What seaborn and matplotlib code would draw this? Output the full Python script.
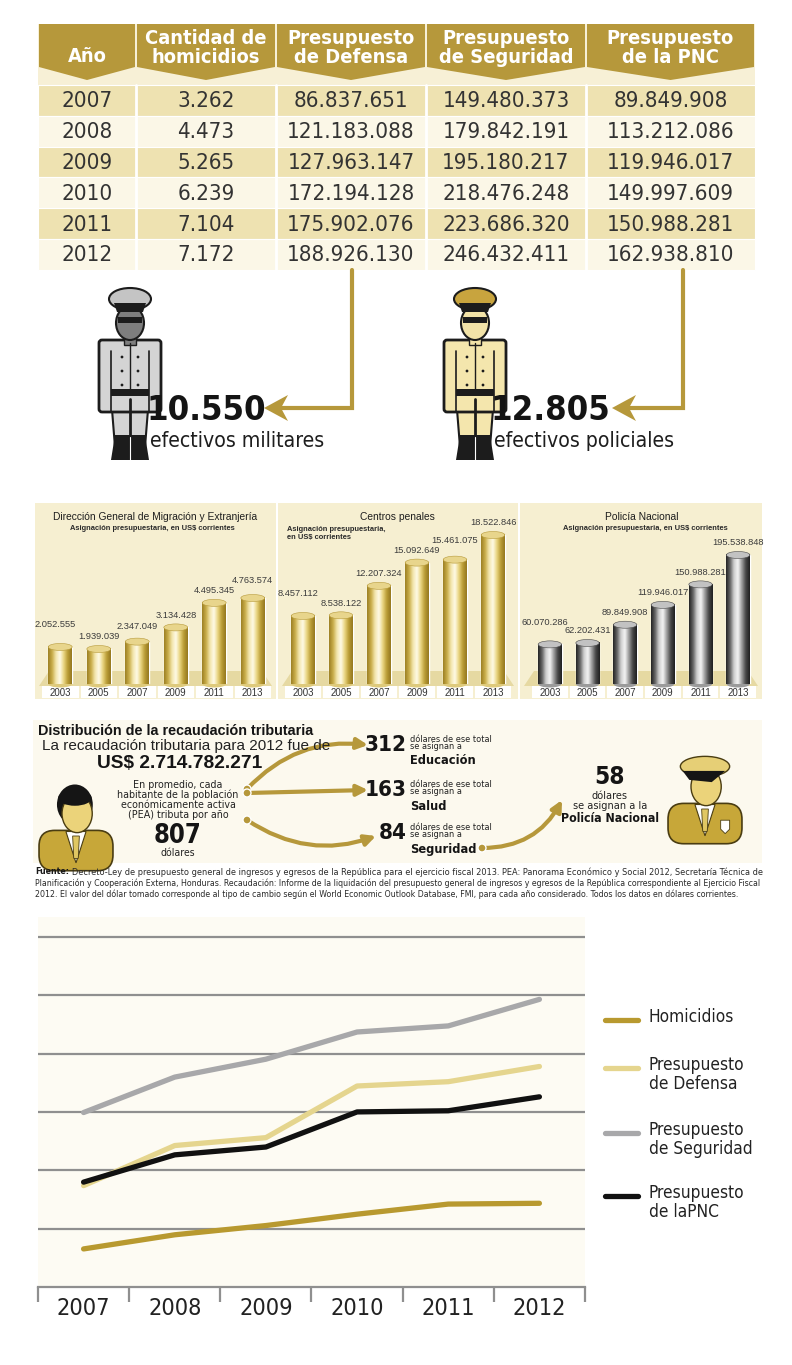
import numpy as np
import pandas as pd
import matplotlib
matplotlib.use("Agg")
import matplotlib.pyplot as plt
import seaborn as sns
from matplotlib import font_manager
from matplotlib.patches import Rectangle, Polygon, Ellipse, FancyBboxPatch, FancyArrowPatch, Circle
from matplotlib.colors import LinearSegmentedColormap

# ---- tabla principal ----
anios = [2007, 2008, 2009, 2010, 2011, 2012]
homicidios = [3262, 4473, 5265, 6239, 7104, 7172]
presupuesto_defensa = [86837651, 121183088, 127963147, 172194128, 175902076, 188926130]
presupuesto_seguridad = [149480373, 179842191, 195180217, 218476248, 223686320, 246432411]
presupuesto_pnc = [89849908, 113212086, 119946017, 149997609, 150988281, 162938810]
encabezados = ["Año", "Cantidad de\nhomicidios", "Presupuesto\nde Defensa",
               "Presupuesto\nde Seguridad", "Presupuesto\nde la PNC"]

efectivos_militares = 10550
efectivos_policiales = 12805

# ---- asignaciones presupuestarias (US$ corrientes) ----
anios_barras = [2003, 2005, 2007, 2009, 2011, 2013]
migracion = [2052555, 1939039, 2347049, 3134428, 4495345, 4763574]
centros_penales = [8457112, 8538122, 12207324, 15092649, 15461075, 18522846]
policia_nacional = [60070286, 62202431, 89849908, 119946017, 150988281, 195538848]
titulos_barras = ["Dirección General de Migración y Extranjería", "Centros penales", "Policía Nacional"]

# ---- recaudacion tributaria ----
recaudacion_2012 = 2714782271
tributo_por_pea = 807
destinos = ["Educación", "Salud", "Seguridad"]
dolares_destino = [312, 163, 84]
dolares_pnc = 58

# ---- grafico de lineas ----
series = ["Homicidios", "Presupuesto\nde Defensa", "Presupuesto\nde Seguridad", "Presupuesto\nde laPNC"]
colores_series = ["#b8992f", "#e5d58e", "#a8a8aa", "#111111"]

nota = [
    "Decreto-Ley de presupuesto general de ingresos y egresos de la República para el ejercicio fiscal 2013. PEA: Panorama Económico y Social 2012, Secretaría Técnica de",
    "Planificación y Cooperación Externa, Honduras. Recaudación: Informe de la liquidación del presupuesto general de ingresos y egresos de la República correspondiente al Ejercicio Fiscal",
    "2012. El valor del dólar tomado corresponde al tipo de cambio según el World Economic Outlook Database, FMI, para cada año considerado. Todos los datos en dólares corrientes.",
]

sns.set_theme(style="white")
plt.rcParams["font.family"] = ["Liberation Sans", "DejaVu Sans"]


def buscar_angosta():
    """Busca una letra estrecha instalada; devuelve familia, estiramiento y factor de tamaño."""
    fuentes = font_manager.fontManager.ttflist
    estrechas = ("condensed", "semi-condensed", "extra-condensed", "ultra-condensed")
    if any(f.name == "Liberation Sans Narrow" for f in fuentes):
        return "Liberation Sans Narrow", "normal", 1.0
    for nombre, factor in [("DejaVu Sans", 0.8), ("Roboto", 0.92), ("Open Sans", 0.88), ("Noto Sans", 0.9)]:
        if any(f.name == nombre and str(f.stretch) in estrechas for f in fuentes):
            return nombre, "condensed", factor
    for f in fuentes:
        if "Narrow" in f.name or "Condensed" in f.name:
            return f.name, "normal", 0.95
    return "Liberation Sans", "normal", 0.82


ANGOSTA, ESTIRA, FACTOR = buscar_angosta()
NAR = dict(family=ANGOSTA, fontstretch=ESTIRA)


def n(tam):
    return tam * FACTOR


ORO = "#b6983b"
W, H = 792, 1365


def miles(v):
    return f"{v:,}".replace(",", ".")


fig = plt.figure(figsize=(W / 100, H / 100), dpi=100)
fig.patch.set_facecolor("white")
lienzo = fig.add_axes([0, 0, 1, 1], zorder=0)
lienzo.axis("off")


def ejes_px(x0, y0, x1, y1):
    return fig.add_axes([x0 / W, 1 - y1 / H, (x1 - x0) / W, (y1 - y0) / H], zorder=2)


def degradado(ax, x0, y0, x1, y1, colores):
    cm = LinearSegmentedColormap.from_list("fondo", colores)
    ax.imshow(np.linspace(0, 1, 64)[None, :], extent=(x0, x1, y1, y0), aspect="auto",
              cmap=cm, zorder=0.5)


def uniformado(ax, cx, top, traje, gorra, cara):
    borde = "#1c1c1c"
    P = lambda pts: [(cx + x, top + y) for x, y in pts]
    ax.add_patch(Polygon(P([(-19, 112), (19, 112), (15, 162), (-15, 162)]), fc=traje, ec=borde, lw=1.5))
    ax.plot([cx, cx], [top + 114, top + 160], color=borde, lw=2)
    ax.add_patch(Polygon(P([(-15, 150), (15, 150), (19, 175), (-19, 175)]), fc=borde, lw=0))
    ax.plot([cx, cx], [top + 152, top + 175], color="white", lw=0.8)
    ax.add_patch(FancyBboxPatch((cx - 28, top + 58), 56, 66, boxstyle="round,pad=3",
                                fc=traje, ec=borde, lw=2))
    for s in (-1, 1):
        ax.plot([cx + s * 19, cx + s * 19], [top + 66, top + 126], color=borde, lw=1.2)
        for yb in (72, 86, 100):
            ax.add_patch(Circle((cx + s * 8, top + yb), 1.4, fc=borde, lw=0))
    ax.plot([cx, cx], [top + 58, top + 104], color=borde, lw=1)
    ax.add_patch(Rectangle((cx - 19, top + 104), 38, 7, fc=borde, lw=0))
    ax.add_patch(Rectangle((cx - 6, top + 48), 12, 12, fc=cara, ec=borde, lw=1))
    ax.add_patch(Ellipse((cx, top + 38), 28, 34, fc=cara, ec=borde, lw=1.5))
    ax.add_patch(Rectangle((cx - 12, top + 32), 24, 6, fc=borde, lw=0))
    ax.add_patch(Ellipse((cx, top + 14), 42, 22, fc=gorra, ec=borde, lw=1.5))
    ax.add_patch(Polygon(P([(-16, 18), (16, 18), (13, 27), (-13, 27)]), fc=borde, lw=0))


def busto(ax, cx, top, s=1.0, policia=False):
    borde = "#4a3d12"
    P = lambda pts: [(cx + x * s, top + y * s) for x, y in pts]
    ax.add_patch(FancyBboxPatch((cx - 28 * s, top + 50 * s), 56 * s, 26 * s,
                                boxstyle=f"round,pad={5 * s},rounding_size={14 * s}",
                                fc="#c7a739", ec=borde, lw=1.2))
    ax.add_patch(Polygon(P([(-9, 46), (9, 46), (0, 74)]), fc="white", ec=borde, lw=0.8))
    ax.add_patch(Polygon(P([(-3, 50), (3, 50), (2, 70), (-2, 70)]), fc="#e0c763", ec=borde, lw=0.6))
    if not policia:
        ax.add_patch(Ellipse((cx - 1 * s, top + 22 * s), 32 * s, 36 * s, fc="#151515", lw=0))
    ax.add_patch(Ellipse((cx + 1 * s, top + 30 * s), 27 * s, 34 * s, fc="#ebd37a", ec=borde, lw=1))
    if policia:
        ax.add_patch(Ellipse((cx, top + 12 * s), 44 * s, 18 * s, fc="#e6cf76", ec=borde, lw=1))
        ax.add_patch(Polygon(P([(-20, 16), (18, 16), (6, 26), (-14, 24)]), fc="#151515", lw=0))
        ax.add_patch(Polygon(P([(14, 60), (22, 60), (22, 68), (18, 72), (14, 68)]), fc="white", ec=borde, lw=0.6))
    else:
        ax.add_patch(Ellipse((cx - 1 * s, top + 16 * s), 30 * s, 14 * s, fc="#151515", lw=0))


# ================= tabla =================
bordes = [38, 136, 276, 426, 586, 755]
fila0, alto_fila = 85, 30.8
lienzo.add_patch(Rectangle((38, 24), 717, 62, fc="#f7f0d6", lw=0))
for c in range(5):
    x0, x1 = bordes[c] + 1, bordes[c + 1] - 1
    xc = (x0 + x1) / 2
    lienzo.add_patch(Polygon([(x0, 24), (x1, 24), (x1, 67), (xc, 80), (x0, 67)], fc=ORO, lw=0))
    lienzo.text(xc, 56 if c == 0 else 48, encabezados[c], color="white", fontsize=n(18), weight="bold",
                ha="center", va="center", linespacing=0.95, **NAR)

columnas = [anios, homicidios, presupuesto_defensa, presupuesto_seguridad, presupuesto_pnc]
for r in range(len(anios)):
    y0 = fila0 + r * alto_fila
    lienzo.add_patch(Rectangle((38, y0), 717, alto_fila, fc="#eee2b1" if r % 2 == 0 else "#fbf7e7",
                               ec="white", lw=0.8))
    for c in range(5):
        txt = str(columnas[c][r]) if c == 0 else miles(columnas[c][r])
        lienzo.text((bordes[c] + bordes[c + 1]) / 2, y0 + alto_fila / 2 + 1, txt, fontsize=n(20),
                    color="#333333", ha="center", va="center", **NAR)
for x in bordes[1:-1]:
    lienzo.plot([x, x], [fila0, fila0 + 6 * alto_fila], color="white", lw=2)

# flechas hacia los efectivos
for xv, xt in [(352, 264), (683, 612)]:
    lienzo.plot([xv, xv, xt + 14], [270, 408, 408], color=ORO, lw=3, solid_joinstyle="miter")
    lienzo.add_patch(Polygon([(xt, 408), (xt + 24, 395), (xt + 17, 408), (xt + 24, 421)], fc=ORO, lw=0))

uniformado(lienzo, 130, 285, "#d4d4d4", "#c4c4c4", "#7e7e7e")
uniformado(lienzo, 475, 285, "#f4e6ad", "#c8a43e", "#f2e3a8")
lienzo.text(147, 410, miles(efectivos_militares), fontsize=n(31), weight="bold",
            color="#141414", va="center", **NAR)
lienzo.text(150, 441, "efectivos militares", fontsize=n(19), color="#1e1e1e", va="center", **NAR)
lienzo.text(490, 410, miles(efectivos_policiales), fontsize=n(31), weight="bold",
            color="#141414", va="center", **NAR)
lienzo.text(494, 441, "efectivos policiales", fontsize=n(19), color="#1e1e1e", va="center", **NAR)

# ================= barras cilindricas =================
oro_cm = LinearSegmentedColormap.from_list("oro", ["#9d8024", "#c9ad4a", "#f3e6ad", "#fffbe8",
                                                   "#e9d47e", "#b99c36", "#957820"])
gris_cm = LinearSegmentedColormap.from_list("gris", ["#232323", "#666666", "#cfcfcf", "#f5f5f5",
                                                     "#9b9b9b", "#474747", "#1f1f1f"])
gradiente = np.linspace(0, 1, 64)[None, :]
ALTO_EJE = 154  # px entre la base de las barras y el borde superior del eje
paneles = [
    (35, 276, 41, 272, migracion, oro_cm, "#e8d58c", 86),
    (278, 518, 284, 512, centros_penales, oro_cm, "#e8d58c", 149),
    (520, 762, 531, 757, policia_nacional, gris_cm, "#c2c2c2", 129),
]
for k, (px0, px1, ax0, ax1, valores, cm, color_tapa, alto_px) in enumerate(paneles):
    lienzo.add_patch(Rectangle((px0, 503), px1 - px0, 196, fc="#f6efd1", lw=0))
    lienzo.add_patch(Polygon([(px0 + 4, 686), (px0 + 14, 671), (px1 - 14, 671), (px1 - 4, 686)],
                             fc="#e6d9a2", lw=0))
    ax = ejes_px(ax0, 530, ax1, 684)
    tabla = pd.DataFrame({"anio": [str(a) for a in anios_barras], "valor": valores})
    sns.barplot(data=tabla, x="anio", y="valor", color=cm(0.5), width=0.62, saturation=1, ax=ax)
    tope = max(valores) * ALTO_EJE / alto_px
    tapa = 7 * tope / ALTO_EJE
    previa = None
    for j, (barra, v) in enumerate(zip(ax.patches, valores)):
        x, w, h = barra.get_x(), barra.get_width(), barra.get_height()
        ax.imshow(gradiente, extent=(x, x + w, 0, h), aspect="auto", cmap=cm, zorder=3,
                  interpolation="bicubic")
        ax.add_patch(Ellipse((x + w / 2, 0), w, tapa, fc=cm(0.25), lw=0, zorder=2.9, clip_on=False))
        ax.add_patch(Ellipse((x + w / 2, h), w, tapa, fc=color_tapa, ec=cm(0.1), lw=0.4, zorder=4))
        # etiquetas escalonadas como en el original (en px sobre la base)
        base_px = h / tope * ALTO_EJE + 3.5
        if j == 0:
            dx, sube = -5.5, 14
        else:
            dx, sube = 0, 4
            if previa is not None and abs(base_px + sube - previa) < 9:
                sube = previa + 10 - base_px
        if j > 0:
            previa = base_px + sube
        ax.annotate(miles(v), (x + w / 2, h + tapa / 2), xytext=(dx * 0.72, sube * 0.72),
                    textcoords="offset points", ha="center", va="bottom", fontsize=6.7,
                    color="#3c3c3c", annotation_clip=False)
    ax.set_xlim(-0.5, 5.5)
    ax.set_ylim(0, tope)
    ax.axis("off")
    paso = (ax1 - ax0) / 6
    for j, a in enumerate(anios_barras):
        lienzo.add_patch(Rectangle((ax0 + paso * j + 1, 686), paso - 2, 12, fc="white", lw=0))
        lienzo.text(ax0 + paso * (j + 0.5), 692.5, str(a), fontsize=7, ha="center", va="center",
                    color="#333333")

sub = "Asignación presupuestaria, en US$ corrientes"
lienzo.text(155, 517, titulos_barras[0], fontsize=7.4, ha="center", va="center", color="#1e1e1e")
lienzo.text(152, 529, sub, fontsize=5.4, weight="bold", ha="center", va="center", color="#2a2a2a")
lienzo.text(397, 517, titulos_barras[1], fontsize=7.4, ha="center", va="center", color="#1e1e1e")
lienzo.text(287, 533.5, "Asignación presupuestaria,\nen US$ corrientes", fontsize=5.4, weight="bold",
            ha="left", va="center", color="#2a2a2a", linespacing=1.1)
lienzo.text(642, 517, titulos_barras[2], fontsize=7.4, ha="center", va="center", color="#1e1e1e")
lienzo.text(645, 529, sub, fontsize=5.4, weight="bold", ha="center", va="center", color="#2a2a2a")

# ================= recaudacion =================
lienzo.add_patch(Rectangle((33, 720), 729, 143, fc="#fcf9ee", lw=0))
degradado(lienzo, 35, 772, 245, 862, ["#e4d495", "#f1e7bf", "#fbf7e8"])
degradado(lienzo, 540, 755, 760, 842, ["#f6efd3", "#ede1ad"])
busto(lienzo, 76, 780, s=1.12)
busto(lienzo, 705, 753, s=1.12, policia=True)

lienzo.text(38, 731, "Distribución de la recaudación tributaria", fontsize=10.4, weight="bold",
            va="center", color="#151515")
lienzo.text(42, 746, "La recaudación tributaria para 2012 fue de", fontsize=11, va="center", color="#222222")
lienzo.text(180, 763, "US$ " + miles(recaudacion_2012), fontsize=13.8, weight="bold", ha="center",
            va="center", color="#151515")
lienzo.text(178, 800, "En promedio, cada\nhabitante de la población\neconómicamente activa\n(PEA) tributa por año",
            fontsize=n(9.6), ha="center", va="center", linespacing=0.98, color="#222222", **NAR)
lienzo.text(178, 836, str(tributo_por_pea), fontsize=n(23), weight="bold", ha="center",
            va="center", color="#151515", **NAR)
lienzo.text(178, 853, "dólares", fontsize=n(9.5), ha="center", va="center", color="#222222", **NAR)

flechas = [((247, 789), (368, 745), -0.25), ((247, 793), (368, 790), 0.0), ((247, 820), (376, 836), 0.25)]
filas_y = [745, 790, 833]
for (ini, fin, rad), destino, monto, yy in zip(flechas, destinos, dolares_destino, filas_y):
    lienzo.add_patch(FancyArrowPatch(ini, fin, connectionstyle=f"arc3,rad={rad}", arrowstyle="-|>",
                                     mutation_scale=16, lw=3, color=ORO, shrinkA=0, shrinkB=0))
    lienzo.add_patch(Circle(ini, 4, fc=ORO, ec="white", lw=1, zorder=3))
    lienzo.text(407, yy, str(monto), fontsize=n(20), weight="bold", ha="right", va="center",
                color="#151515", **NAR)
    lienzo.text(410, yy - 2, "dólares de ese total\nse asignan a", fontsize=n(8.2), ha="left",
                va="center", linespacing=0.85, color="#222222", **NAR)
    lienzo.text(410, yy + 16, destino, fontsize=n(11.5), weight="bold", ha="left", va="center",
                color="#151515", **NAR)

lienzo.add_patch(FancyArrowPatch((482, 848), (562, 800), connectionstyle="arc3,rad=0.3", arrowstyle="-|>",
                                 mutation_scale=16, lw=3, color=ORO, shrinkA=0, shrinkB=0))
lienzo.add_patch(Circle((482, 848), 4, fc=ORO, ec="white", lw=1, zorder=3))
lienzo.text(610, 777, str(dolares_pnc), fontsize=n(22), weight="bold", ha="center",
            va="center", color="#151515", **NAR)
lienzo.text(610, 801, "dólares\nse asignan a la", fontsize=n(9.8), ha="center", va="center",
            linespacing=1.0, color="#222222", **NAR)
lienzo.text(610, 819, "Policía Nacional", fontsize=n(11), weight="bold", ha="center",
            va="center", color="#151515", **NAR)

# nota de fuentes
fuente = lienzo.text(35, 872, "Fuente:", fontsize=6.3, weight="bold", va="center", color="#1a1a1a", **NAR)
lineas_nota = []
for i, linea in enumerate(nota):
    lineas_nota.append(lienzo.text(35, 872 + 11 * i, linea, fontsize=6.3, va="center",
                                   color="#2a2a2a", **NAR))

# ================= grafico de lineas =================
lineas = pd.DataFrame({
    "anio": anios * 4,
    "serie": np.repeat(series, len(anios)),
    "valor": np.concatenate([np.array(homicidios) / 100, np.array(presupuesto_defensa) / 1e6,
                             np.array(presupuesto_seguridad) / 1e6, np.array(presupuesto_pnc) / 1e6]),
})
lineas["pos"] = lineas["anio"] - anios[0]

ax_l = ejes_px(38, 917, 585, 1287)
ax_l.set_facecolor("#fdfbf3")
for v in range(50, 301, 50):
    ax_l.axhline(v, color="#8f8f8f", lw=1.6, zorder=0.5)
sns.lineplot(data=lineas, x="pos", y="valor", hue="serie", hue_order=series,
             palette=dict(zip(series, colores_series)), linewidth=3.8, legend=False,
             errorbar=None, ax=ax_l)
for ln in ax_l.lines:
    ln.set_solid_capstyle("round")
    ln.set_solid_joinstyle("round")
ax_l.set_xlim(-0.5, 5.5)
ax_l.set_ylim(0, 317)
ax_l.set_xticks(range(len(anios)))
ax_l.set_xticklabels([str(a) for a in anios], fontsize=n(21), color="#222222", **NAR)
ax_l.set_xticks(np.arange(-0.5, len(anios)), minor=True)
ax_l.tick_params(axis="x", which="major", length=0, pad=7)
ax_l.tick_params(axis="x", which="minor", length=11, width=1.6, color="#8f8f8f", direction="out", bottom=True)
ax_l.set_yticks([])
ax_l.set_xlabel("")
ax_l.set_ylabel("")
for s in ["top", "left", "right"]:
    ax_l.spines[s].set_visible(False)
ax_l.spines["bottom"].set_color("#8f8f8f")
ax_l.spines["bottom"].set_linewidth(1.6)

# leyenda
for serie, color, y in zip(series, colores_series, [1020, 1068, 1133, 1196]):
    lienzo.plot([605, 638], [y, y], color=color, lw=3.8, solid_capstyle="round")
    lienzo.text(649, y - 12, serie, fontsize=n(15.5), color="#222222", va="top",
                linespacing=1.1, **NAR)

lienzo.set_xlim(0, W)
lienzo.set_ylim(H, 0)

# ajustar el ancho de la nota al bloque
fig.canvas.draw()
rend = fig.canvas.get_renderer()
ancho_fuente = fuente.get_window_extent(rend).width
lineas_nota[0].set_x(35 + ancho_fuente + 3)
for t, ancho in zip(lineas_nota, [722 - ancho_fuente - 3, 722, 706]):
    t.set_fontsize(t.get_fontsize() * ancho / t.get_window_extent(rend).width)

fig.savefig("out.png", dpi=100, facecolor="white")
